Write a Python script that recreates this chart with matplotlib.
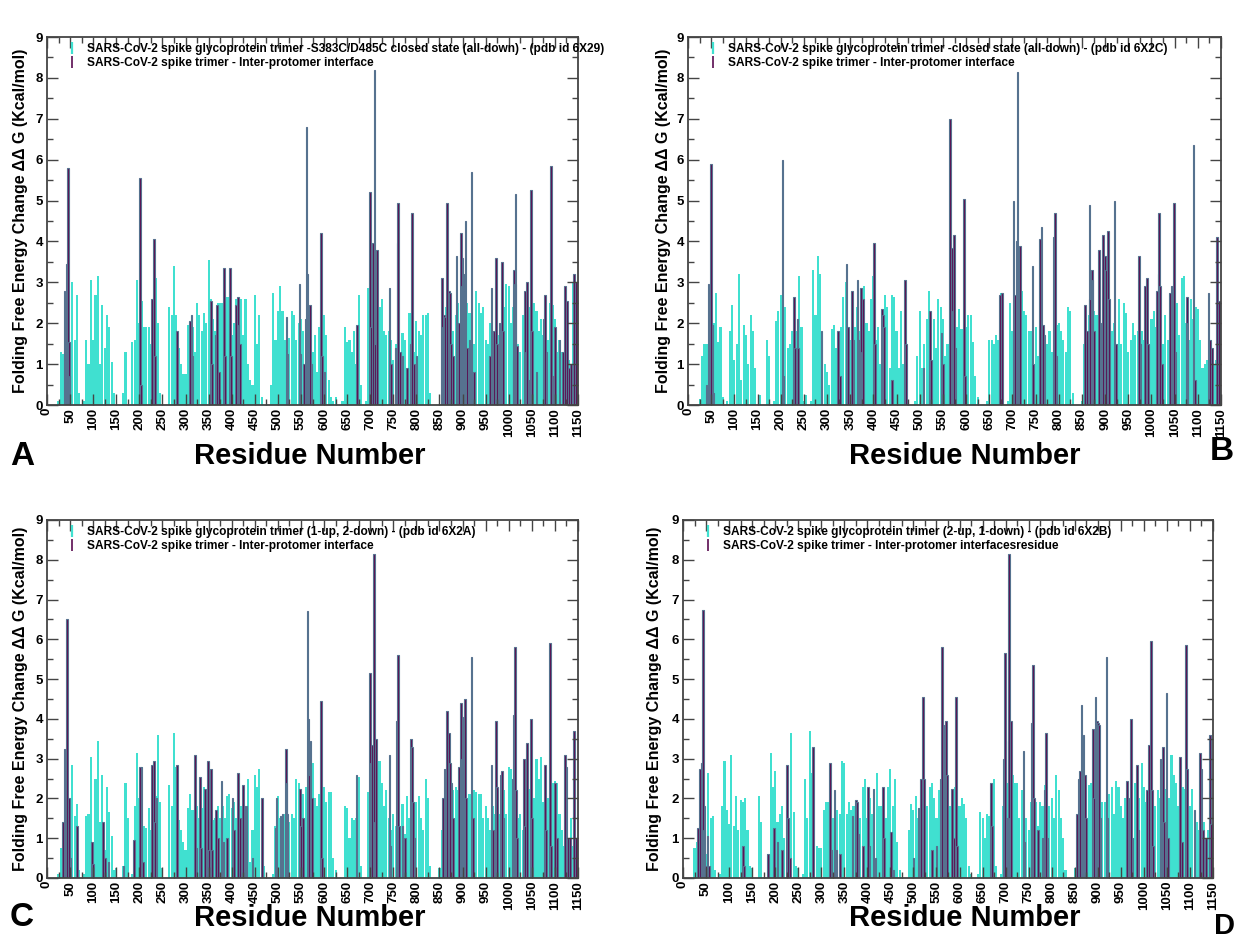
import numpy as np
import matplotlib
matplotlib.use("Agg")
import matplotlib.pyplot as plt
from matplotlib.lines import Line2D

plt.rcParams['font.family'] = ['Liberation Sans', 'DejaVu Sans']

# residue numbers of the sampled cyan bars (every 5th residue)
residues = np.arange(25, 1150, 5)

# full-chain folding free energy change, panel A (6X29)
cyan_a = [
    0.1, 1.3, 1.25, 0.9, 0.5, 1.5, 3.0, 1.6, 2.7, 0.3,
    0, 0.1, 1.6, 1.0, 3.05, 1.6, 2.7, 3.15, 1.0, 2.45,
    1.4, 2.2, 1.9, 1.05, 0.3, 0, 0, 0, 0.3, 1.3,
    0, 0, 1.55, 1.6, 3.05, 2.0, 2.55, 1.9, 1.9, 1.9,
    1.5, 2.1, 3.1, 2.0, 0.3, 0, 0, 0, 2.4, 2.2,
    3.4, 2.2, 1.4, 1.0, 0.75, 0.75, 1.95, 1.2, 1.9, 1.3,
    2.5, 2.2, 1.8, 2.25, 2.0, 3.55, 2.6, 2.1, 1.8, 2.5,
    2.5, 2.5, 1.8, 2.65, 2.65, 1.7, 2.0, 2.6, 1.8, 2.6,
    1.7, 2.6, 1.0, 0.6, 0.5, 2.7, 1.5, 2.2, 0.2, 0,
    0, 0, 0.5, 2.75, 1.6, 2.3, 2.9, 2.3, 1.6, 1.0,
    1.65, 2.3, 2.2, 1.6, 2.0, 2.1, 1.8, 1.1, 1.5, 2.0,
    1.3, 1.7, 0.8, 1.9, 1.8, 2.2, 1.7, 0.6, 0.2, 0.1,
    0.2, 0, 0, 0.1, 1.9, 1.55, 1.6, 1.3, 1.8, 1.0,
    2.7, 0.5, 0, 0.1, 2.85, 1.6, 2.0, 1.2, 2.7, 2.4,
    2.6, 1.8, 1.7, 1.8, 1.6, 1.1, 1.5, 1.2, 1.2, 1.75,
    1.6, 0.8, 2.25, 1.7, 1.3, 2.05, 1.8, 1.7, 2.2, 2.2,
    2.25, 0.3, 0, 0, 0, 0, 1.5, 2.0, 2.4, 2.5,
    2.3, 1.8, 2.2, 2.5, 2.0, 1.8, 2.8, 2.5, 2.25, 1.8,
    1.5, 2.8, 2.5, 2.25, 2.4, 1.6, 1.5, 2.0, 1.7, 1.0,
    1.4, 1.7, 1.8, 2.4, 2.95, 2.9, 2.0, 2.4, 2.2, 1.5,
    1.3, 2.2, 2.5, 2.3, 2.4, 3.0, 2.5, 2.3, 1.8, 2.1,
    1.7, 2.5, 1.6, 2.5, 2.45, 2.1, 1.3, 1.6, 1.3, 1.2,
    1.0, 1.1, 1.0, 3.0, 1.3,
]

# panel B (6X2C)
cyan_b = [
    0.15, 1.2, 1.5, 1.5, 0.5, 1.0, 2.0, 2.75, 1.55, 1.9,
    0.2, 0, 0.1, 1.8, 2.45, 1.1, 1.5, 3.2, 0.6, 1.95,
    1.7, 1.0, 2.2, 1.8, 0.9, 0, 0.25, 0, 0, 1.6,
    1.2, 0, 0.1, 2.05, 2.3, 2.7, 2.45, 2.4, 1.4, 1.5,
    1.8, 1.85, 1.8, 3.15, 1.9, 0.1, 0.25, 0, 0.1, 3.3,
    2.2, 3.65, 3.2, 1.1, 1.0, 0.8, 0.5, 1.85, 1.95, 1.4,
    1.0, 1.9, 2.65, 3.0, 1.9, 1.6, 1.9, 1.9, 2.4, 1.8,
    1.9, 2.9, 2.0, 1.8, 2.6, 3.15, 1.6, 1.9, 1.0, 1.8,
    2.7, 2.4, 0.9, 2.7, 2.65, 1.8, 0.9, 2.3, 1.0, 0.2,
    0, 0, 0, 0.1, 1.2, 2.3, 0.9, 1.5, 2.1, 2.8,
    1.1, 2.1, 1.4, 2.6, 2.4, 2.1, 1.2, 1.5, 1.9, 1.6,
    2.3, 1.9, 2.35, 1.85, 1.0, 1.9, 2.2, 2.2, 1.55, 0.7,
    0.2, 0, 0, 0, 0.1, 1.6, 1.6, 1.5, 1.7, 1.6,
    2.75, 0.3, 0, 0.1, 2.5, 1.8, 2.7, 1.5, 2.1, 2.8,
    2.3, 2.2, 1.8, 1.8, 1.5, 1.9, 1.2, 1.6, 1.5, 1.3,
    1.5, 1.8, 1.3, 1.6, 1.95, 2.0, 1.8, 1.6, 1.3, 2.4,
    2.3, 0.3, 0, 0, 0, 0.1, 1.5, 1.8, 2.2, 2.3,
    2.3, 2.2, 2.2, 1.9, 2.55, 2.0, 2.3, 1.5, 1.8, 2.0,
    1.5, 2.6, 1.5, 2.5, 2.25, 1.3, 1.6, 2.0, 1.7, 1.8,
    1.5, 1.8, 1.6, 2.2, 1.3, 2.1, 2.3, 1.9, 2.0, 2.4,
    1.5, 2.2, 1.6, 2.4, 1.9, 2.35, 2.5, 1.7, 3.1, 3.15,
    2.0, 1.6, 2.6, 2.1, 2.4, 2.35, 1.6, 0.9, 1.0, 1.1,
    0.6, 1.0, 1.0, 1.1, 2.55,
]

# panel C (6X2A)
cyan_c = [
    0.1, 0.75, 1.4, 1.0, 0.5, 0.3, 2.85, 1.55, 1.85, 0.2,
    0, 0.1, 1.55, 1.6, 3.05, 0.7, 2.5, 3.45, 1.4, 2.6,
    0.7, 2.3, 1.65, 1.05, 0.2, 0.25, 0, 0, 0.3, 2.4,
    1.5, 0, 0.1, 1.8, 3.15, 2.0, 2.8, 1.3, 1.25, 1.75,
    1.2, 2.0, 2.05, 3.6, 1.9, 0.25, 0, 0, 2.35, 1.8,
    3.65, 2.8, 1.45, 1.2, 0.9, 0.7, 1.75, 2.1, 1.7, 2.0,
    1.8, 1.5, 1.75, 2.3, 1.5, 1.7, 1.9, 1.45, 1.5, 1.8,
    1.5, 1.8, 1.5, 2.05, 2.1, 1.75, 1.9, 1.5, 1.4, 1.8,
    1.75, 1.6, 2.5, 0.4, 1.2, 2.6, 2.3, 2.75, 1.0, 0.3,
    0, 0, 0, 0.1, 1.3, 2.05, 1.5, 1.5, 1.6, 1.5,
    1.4, 1.6, 1.5, 2.5, 2.4, 2.2, 2.1, 2.3, 1.6, 2.3,
    2.9, 2.0, 1.8, 2.1, 1.5, 2.3, 1.9, 2.15, 2.15, 0.5,
    0.2, 0, 0, 0, 1.8, 1.75, 1.0, 1.5, 1.45, 1.5,
    2.55, 0.3, 0, 0, 2.15, 1.8, 2.2, 1.5, 2.0, 2.95,
    2.4, 1.8, 2.2, 1.5, 1.2, 1.6, 1.3, 1.5, 1.3, 1.85,
    1.1, 2.05, 1.5, 1.7, 1.9, 1.9, 2.05, 1.5, 1.2, 2.5,
    2.0, 0.3, 0, 0, 0, 0.25, 1.2, 1.8, 2.2, 2.4,
    2.65, 2.2, 2.3, 2.2, 2.0, 2.5, 2.2, 1.8, 2.1, 2.2,
    2.2, 2.15, 2.1, 2.1, 1.5, 1.8, 1.5, 1.2, 1.8, 1.6,
    2.2, 1.6, 1.8, 2.2, 1.6, 2.8, 2.75, 2.0, 1.5, 1.5,
    1.6, 1.2, 1.5, 2.0, 2.25, 1.8, 2.0, 3.0, 2.5, 3.05,
    1.9, 1.8, 2.0, 2.45, 2.4, 2.45, 2.4, 1.6, 1.2, 0.8,
    1.5, 1.0, 1.5, 0.8, 1.0,
]

# panel D (6X2B)
cyan_d = [
    0.75, 0.9, 1.2, 1.0, 0.8, 0.6, 2.65, 1.5, 1.55, 0.2,
    0, 0.1, 1.8, 2.95, 1.7, 1.35, 3.1, 1.3, 2.05, 1.2,
    1.95, 1.9, 2.0, 1.2, 0.3, 0.25, 0, 0, 2.05, 1.4,
    0, 0, 0.6, 3.15, 2.3, 2.7, 1.4, 1.6, 1.8, 1.0,
    1.7, 1.5, 3.65, 1.65, 0.3, 0.25, 0, 0.1, 2.5, 1.5,
    3.7, 2.65, 1.5, 0.8, 0.75, 0.75, 1.7, 1.9, 1.9, 1.6,
    1.5, 2.0, 1.7, 1.6, 2.95, 2.9, 1.6, 1.9, 1.7, 1.8,
    1.6, 1.8, 1.5, 2.3, 2.5, 1.5, 2.0, 1.6, 1.8, 2.65,
    1.8, 1.8, 1.6, 1.5, 2.3, 2.75, 1.8, 2.5, 0.9, 0.2,
    0, 0, 0, 1.2, 1.85, 1.7, 2.05, 1.5, 1.0, 1.2,
    1.6, 1.8, 2.3, 2.4, 2.0, 1.5, 2.2, 1.8, 1.5, 2.0,
    2.05, 1.8, 1.5, 2.3, 1.9, 1.8, 2.0, 1.85, 1.5, 0.3,
    0.1, 0, 0, 0.1, 1.65, 1.5, 1.0, 1.6, 1.55, 1.2,
    2.5, 0.3, 0, 0.1, 1.8, 1.5, 2.4, 1.6, 2.6, 2.4,
    2.4, 1.5, 2.2, 1.85, 1.5, 1.2, 1.9, 1.5, 1.9, 1.3,
    1.9, 1.8, 2.35, 1.5, 1.8, 2.0, 1.5, 2.6, 2.2, 1.5,
    1.0, 0.2, 0, 0, 0, 0.25, 1.5, 2.0, 2.35, 2.4,
    2.2, 2.35, 2.4, 2.7, 2.2, 1.9, 2.0, 1.9, 1.9, 2.0,
    2.1, 2.3, 1.6, 2.45, 2.3, 1.8, 1.5, 2.0, 1.8, 1.6,
    1.8, 2.4, 1.9, 2.0, 2.9, 2.3, 1.9, 1.6, 2.3, 1.6,
    1.8, 2.2, 2.0, 1.6, 2.25, 1.6, 2.0, 3.1, 2.6, 2.4,
    1.8, 1.8, 2.3, 2.25, 2.3, 1.8, 2.25, 1.6, 1.4, 1.2,
    1.6, 1.4, 1.0, 1.2, 1.35,
]

# inter-protomer interface residues (residue, ddG)
dark_a = [
    (38, 2.8), (40, 1.1), (42, 3.45), (45, 5.8), (47, 1.55), (49, 0.7),
    (201, 5.55), (203, 0.5), (227, 2.6), (232, 4.05), (234, 1.2), (282, 1.8),
    (310, 2.05), (313, 2.2), (315, 1.2), (355, 2.55), (357, 1.0), (365, 1.7),
    (368, 2.45), (372, 0.8), (383, 3.35), (385, 1.2), (396, 3.35), (398, 1.2),
    (410, 2.45), (413, 2.65), (415, 1.95), (418, 1.5), (519, 2.15), (521, 1.25),
    (547, 2.95), (549, 1.25), (556, 1.0), (560, 2.1), (562, 6.8), (564, 3.2),
    (566, 2.2), (568, 1.3), (570, 2.45), (573, 1.0), (593, 4.2), (595, 1.2),
    (601, 0.8), (671, 1.95), (700, 5.2), (702, 1.9), (706, 3.95), (709, 8.2),
    (711, 1.5), (714, 3.8), (742, 2.85), (745, 1.0), (755, 1.4), (759, 3.95),
    (760, 4.95), (765, 1.3), (770, 1.2), (780, 0.9), (788, 1.5), (791, 4.7),
    (795, 1.0), (800, 1.2), (856, 3.1), (858, 1.9), (860, 2.2), (862, 2.15),
    (866, 4.95), (870, 2.8), (873, 2.75), (875, 1.5), (880, 1.2), (887, 3.65),
    (890, 1.8), (892, 2.0), (896, 4.2), (898, 2.9), (900, 3.6), (902, 3.2),
    (904, 2.8), (906, 4.5), (910, 1.4), (915, 1.6), (919, 5.7), (925, 0.8),
    (960, 1.2), (963, 2.85), (965, 1.5), (968, 1.8), (972, 3.6), (975, 1.5),
    (980, 2.0), (985, 3.5), (988, 1.8), (1010, 1.1), (1012, 3.3), (1014, 2.95),
    (1015, 5.15), (1018, 1.45), (1035, 2.8), (1038, 1.3), (1040, 3.0), (1045, 0.6),
    (1048, 5.25), (1050, 1.8), (1060, 0.8), (1075, 2.1), (1079, 2.7), (1082, 1.3),
    (1091, 5.85), (1095, 0.7), (1100, 1.9), (1110, 1.6), (1118, 1.3), (1122, 2.9),
    (1126, 2.55), (1130, 0.9), (1135, 1.0), (1142, 3.2), (1145, 3.0),
]

dark_b = [
    (40, 0.5), (44, 2.95), (47, 2.75), (49, 5.9), (53, 1.95), (55, 0.3),
    (204, 6.0), (206, 0.7), (229, 2.65), (231, 1.4), (236, 2.1), (238, 1.4),
    (288, 1.8), (323, 1.8), (328, 0.7), (342, 3.45), (345, 1.9), (354, 2.8),
    (357, 1.6), (366, 3.05), (368, 1.6), (373, 2.85), (375, 1.3), (378, 2.6),
    (401, 3.95), (403, 1.5), (418, 2.35), (421, 2.2), (423, 1.9), (440, 0.6),
    (468, 3.05), (470, 1.5), (508, 0.9), (522, 2.3), (524, 1.1), (547, 1.75),
    (550, 1.0), (566, 7.0), (569, 3.85), (572, 2.3), (574, 4.15), (577, 1.4),
    (596, 5.05), (598, 0.7), (673, 2.7), (678, 2.75), (702, 5.0), (705, 2.7),
    (709, 4.0), (711, 8.15), (714, 1.4), (716, 3.9), (743, 3.4), (745, 1.0),
    (760, 4.05), (763, 4.35), (766, 1.95), (769, 1.7), (790, 4.1), (792, 4.7),
    (795, 1.2), (857, 2.45), (861, 1.8), (866, 4.9), (868, 2.6), (871, 3.3),
    (873, 3.05), (876, 1.8), (887, 3.8), (890, 2.0), (896, 4.15), (899, 3.65),
    (902, 3.3), (906, 4.25), (909, 2.6), (920, 5.0), (923, 1.5), (973, 3.65),
    (976, 1.5), (986, 2.9), (990, 3.1), (992, 1.5), (1012, 2.8), (1015, 3.2),
    (1016, 4.7), (1019, 2.9), (1022, 1.0), (1040, 2.75), (1043, 2.9), (1049, 4.95),
    (1052, 1.3), (1076, 2.65), (1078, 2.0), (1091, 6.35), (1094, 0.6), (1123, 2.75),
    (1126, 1.6), (1131, 1.4), (1141, 4.1), (1146, 2.55),
]

dark_c = [
    (34, 1.4), (38, 3.25), (40, 2.7), (42, 1.0), (44, 6.5), (48, 2.0),
    (51, 0.5), (65, 1.3), (97, 0.9), (99, 0.35), (121, 1.4), (125, 0.5),
    (133, 0.4), (166, 0.3), (188, 0.95), (201, 2.8), (205, 2.8), (208, 0.4),
    (227, 2.85), (232, 2.95), (234, 1.4), (237, 2.0), (282, 2.85), (321, 3.1),
    (324, 0.75), (331, 2.55), (334, 0.75), (342, 2.25), (348, 2.95), (351, 0.7),
    (355, 2.75), (358, 0.7), (366, 1.7), (370, 1.0), (378, 2.45), (382, 0.9),
    (390, 1.0), (402, 2.0), (405, 1.2), (414, 2.65), (418, 1.5), (425, 2.35),
    (428, 1.8), (432, 1.8), (445, 0.5), (466, 2.0), (495, 1.25), (497, 2.0),
    (506, 1.55), (510, 1.6), (517, 3.25), (519, 2.4), (521, 1.6), (548, 2.25),
    (550, 1.3), (555, 1.5), (564, 6.7), (566, 4.0), (568, 2.6), (571, 3.45),
    (574, 2.0), (593, 4.45), (595, 0.5), (670, 2.6), (700, 5.15), (702, 2.9),
    (704, 3.35), (708, 8.15), (710, 1.4), (713, 3.5), (742, 3.1), (744, 0.8),
    (757, 3.95), (760, 5.6), (763, 1.3), (770, 1.3), (775, 1.0), (789, 3.5),
    (791, 3.3), (793, 1.9), (796, 1.0), (858, 2.0), (861, 2.75), (866, 4.2),
    (870, 3.65), (873, 2.9), (876, 2.4), (880, 1.5), (892, 2.8), (896, 4.4),
    (898, 3.0), (900, 4.05), (903, 3.05), (905, 4.5), (908, 2.0), (919, 5.55),
    (922, 1.5), (963, 2.85), (966, 1.2), (972, 3.95), (975, 2.3), (983, 2.6),
    (986, 2.7), (989, 1.5), (1008, 2.5), (1012, 4.1), (1014, 5.8), (1016, 2.2),
    (1018, 1.0), (1033, 3.0), (1035, 1.3), (1040, 3.4), (1048, 4.0), (1050, 1.5),
    (1079, 2.85), (1081, 1.2), (1090, 5.9), (1092, 0.8), (1100, 2.4), (1105, 1.0),
    (1122, 3.1), (1125, 2.8), (1128, 1.0), (1132, 1.0), (1142, 3.7), (1145, 1.0),
]

dark_d = [
    (32, 1.25), (37, 2.75), (40, 2.9), (43, 6.75), (45, 1.2), (47, 1.8),
    (50, 0.3), (53, 1.05), (57, 0.3), (130, 0.8), (133, 0.3), (185, 0.6),
    (198, 1.25), (205, 0.9), (215, 0.7), (225, 2.85), (228, 1.5), (232, 0.5),
    (282, 3.3), (319, 2.9), (322, 0.7), (329, 2.2), (333, 0.7), (340, 0.6),
    (368, 1.55), (376, 1.95), (378, 1.9), (381, 1.1), (390, 0.8), (402, 2.3),
    (405, 0.8), (413, 2.25), (418, 0.5), (434, 2.3), (436, 1.0), (452, 1.15),
    (457, 0.2), (500, 0.5), (511, 1.75), (517, 2.5), (521, 4.55), (523, 2.5),
    (540, 0.7), (550, 0.8), (560, 2.5), (562, 5.8), (565, 3.85), (568, 2.0),
    (571, 3.95), (573, 2.6), (584, 2.25), (588, 1.0), (592, 4.55), (594, 0.8),
    (668, 2.4), (670, 1.3), (697, 3.0), (699, 5.65), (702, 1.5), (706, 3.45),
    (708, 8.15), (710, 1.5), (712, 3.95), (739, 3.2), (741, 0.9), (756, 3.9),
    (759, 5.35), (762, 2.0), (770, 1.2), (780, 1.0), (786, 2.2), (788, 3.65),
    (791, 1.0), (855, 1.6), (858, 2.5), (861, 2.7), (865, 4.35), (869, 3.6),
    (872, 2.6), (875, 1.5), (889, 3.75), (892, 2.0), (895, 4.55), (898, 3.95),
    (901, 3.9), (903, 3.85), (906, 1.5), (919, 5.55), (921, 1.5), (963, 2.45),
    (967, 2.0), (972, 4.0), (975, 1.0), (985, 2.85), (988, 1.2), (1007, 2.2),
    (1011, 3.35), (1015, 5.95), (1017, 2.2), (1020, 0.8), (1036, 3.0), (1041, 3.3),
    (1043, 1.4), (1049, 4.65), (1052, 1.0), (1079, 3.05), (1083, 0.9), (1091, 5.85),
    (1094, 2.75), (1110, 1.7), (1122, 3.15), (1125, 2.75), (1128, 1.2), (1135, 1.0),
    (1143, 3.6), (1146, 1.35),
]

legend_titles = [
    "SARS-CoV-2 spike glycoprotein trimer -S383C/D485C closed state (all-down) - (pdb id 6X29)",
    "SARS-CoV-2 spike glycoprotein trimer -closed state (all-down) - (pdb id 6X2C)",
    "SARS-CoV-2 spike glycoprotein trimer (1-up, 2-down) - (pdb id 6X2A)",
    "SARS-CoV-2 spike glycoprotein trimer (2-up, 1-down) - (pdb id 6X2B)",
]
legend_second = [
    "SARS-CoV-2 spike trimer - Inter-protomer interface",
    "SARS-CoV-2 spike trimer - Inter-protomer interface",
    "SARS-CoV-2 spike trimer - Inter-protomer interface",
    "SARS-CoV-2 spike trimer - Inter-protomer interfacesresidue",
]
panel_letters = ['A', 'B', 'C', 'D']

CYAN = '#40e0d0'
PURPLE = '#5a0c50'
EDGE = '#56728f'

W, H = 1236, 940
fig = plt.figure(figsize=(W / 100, H / 100), dpi=100)

# axes boxes in pixels: left, right, top, bottom
boxes = [(47, 578, 37, 405), (688, 1221, 37, 405),
         (47, 578, 520, 878), (683, 1213, 520, 878)]
ylab_x = [-0.036, -0.032, -0.036, -0.04]
xlab_pos = [(310, 456), (965, 456), (310, 918), (965, 918)]
letter_pos = [(22, 456), (1222, 452), (22, 918), (1225, 926)]
letter_size = [24, 24, 24, 21]

cyan_all = [cyan_a, cyan_b, cyan_c, cyan_d]
dark_all = [dark_a, dark_b, dark_c, dark_d]

for i in range(4):
    l, r, t, b = boxes[i]
    ax = fig.add_axes([l / W, 1 - b / H, (r - l) / W, (b - t) / H])

    ax.bar(residues, cyan_all[i], width=4.6, color=CYAN, linewidth=0)
    d_res = [p[0] for p in dark_all[i]]
    d_val = [p[1] for p in dark_all[i]]
    ax.bar(d_res, d_val, width=3.6, color=PURPLE, edgecolor=EDGE, linewidth=0.8)

    ax.set_xlim(0, 1150)
    ax.set_ylim(0, 9)
    ax.set_xticks(np.arange(0, 1151, 50))
    ax.set_xticks(np.arange(0, 1151, 25), minor=True)
    ax.set_yticks(np.arange(0, 10, 1))
    ax.set_yticks(np.arange(0, 9.01, 0.5), minor=True)
    ax.tick_params(which='both', direction='in', top=True, right=True,
                   width=1, color='#444444')
    ax.tick_params(which='major', length=8, labelsize=9.5, pad=2)
    ax.tick_params(axis='y', which='major', pad=3)
    ax.tick_params(which='minor', length=4)
    for lab in ax.get_xticklabels():
        lab.set_rotation(90)
        lab.set_fontweight('bold')
    for lab in ax.get_yticklabels():
        lab.set_fontweight('bold')
    for sp in ax.spines.values():
        sp.set_linewidth(1.3)
        sp.set_color('#444444')

    ax.set_ylabel('Folding Free Energy Change ΔΔ G (Kcal/mol)',
                  fontsize=11.5, fontweight='bold')
    ax.yaxis.set_label_coords(ylab_x[i], 0.5)

    handles = [
        Line2D([0], [0], color=CYAN, lw=0, marker='|', markersize=9, markeredgewidth=1.6),
        Line2D([0], [0], color=PURPLE, lw=0, marker='|', markersize=9, markeredgewidth=1.2),
    ]
    ax.legend(handles, [legend_titles[i], legend_second[i]], loc='upper left',
              bbox_to_anchor=(0.035, 0.99), frameon=False,
              prop={'weight': 'bold', 'size': 8.6}, handlelength=0.6,
              handletextpad=1.0, labelspacing=0.2, borderaxespad=0, borderpad=0.2)

    fig.text(xlab_pos[i][0] / W, 1 - xlab_pos[i][1] / H, 'Residue Number',
             ha='center', va='center', fontsize=21, fontweight='bold')
    fig.text(letter_pos[i][0] / W, 1 - letter_pos[i][1] / H, panel_letters[i],
             ha='center', va='center', fontsize=letter_size[i], fontweight='bold')

fig.savefig('out.png', dpi=100)
